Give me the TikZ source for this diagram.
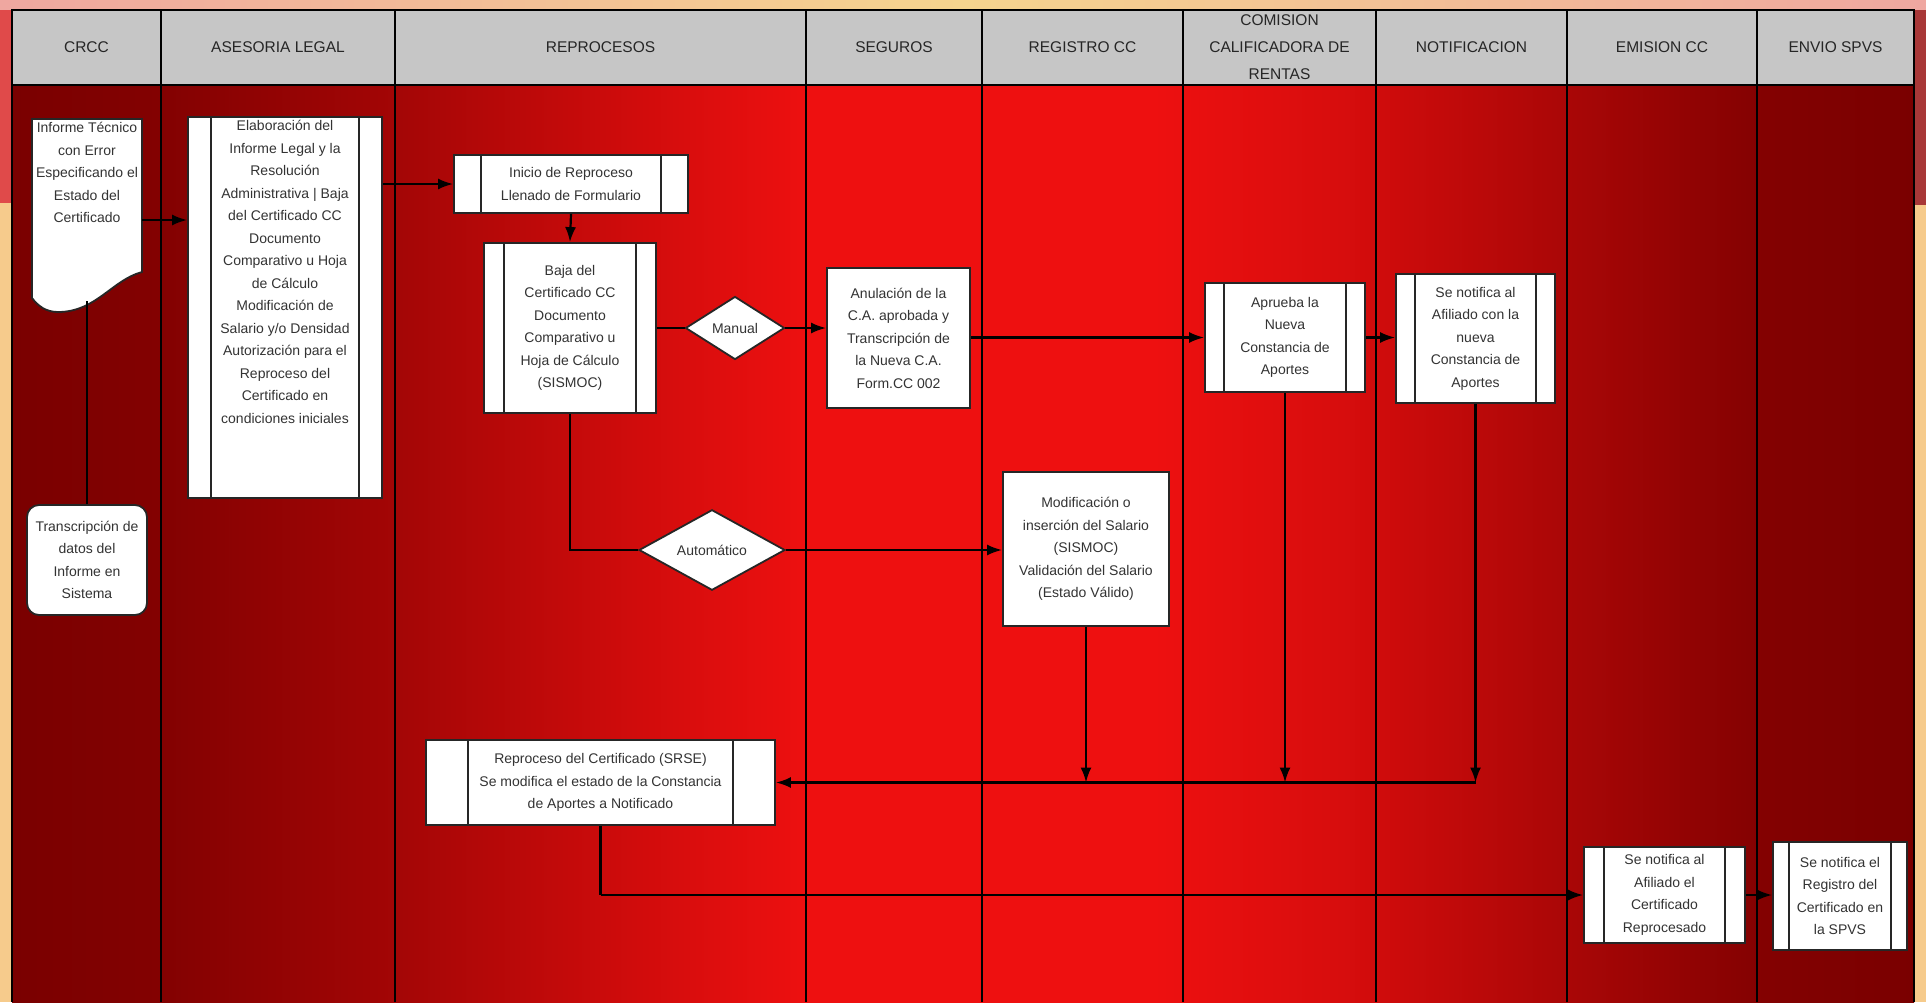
\documentclass[tikz,border=0pt]{standalone}
\usepackage{fontspec}
\setmainfont{Liberation Sans}
\usepackage{tikz}
\usetikzlibrary{arrows.meta,shapes.geometric,calc}
\definecolor{lanedark}{HTML}{7A0000}
\definecolor{lanebright}{HTML}{EE1010}
\definecolor{headgray}{HTML}{C6C6C6}
\definecolor{peach}{HTML}{F6CB8C}
\definecolor{edgepink}{HTML}{EFA7A0}
\definecolor{edgeyellow}{HTML}{F6D48E}
\definecolor{edgered}{HTML}{E04A4A}
\pgfdeclarehorizontalshading{lanefade}{100bp}{color(0bp)=(lanedark); color(25bp)=(lanedark); color(29bp)=(lanedark!92!lanebright); color(35bp)=(lanedark!65!lanebright); color(41.5bp)=(lanedark!25!lanebright); color(46bp)=(lanebright); color(55bp)=(lanebright); color(60bp)=(lanedark!20!lanebright); color(66bp)=(lanedark!60!lanebright); color(71bp)=(lanedark!92!lanebright); color(75bp)=(lanedark); color(100bp)=(lanedark)}
\newcommand{\boxfont}{\fontsize{14}{22.5}\selectfont}
\newcommand{\lanefont}{\fontsize{15.5}{27}\selectfont}
\tikzset{
	lanehead/.style={draw=black, line width=1.8pt, fill=headgray, minimum height=75, inner sep=0pt, align=center, font=\lanefont, text=black!85},
	laneline/.style={line width=1.8pt, black},
	txt/.style={align=center, font=\boxfont, text=black!80, inner sep=0pt},
	box/.style={draw=black!85, line width=1.8pt, fill=white, align=center, font=\boxfont, text=black!80, inner sep=2pt},
	subproc/.style={box, path picture={\draw[line width=1.8pt, black!85] ([xshift=#1]path picture bounding box.north west) -- ([xshift=#1]path picture bounding box.south west) ([xshift=-#1]path picture bounding box.north east) -- ([xshift=-#1]path picture bounding box.south east);}},
	subproc/.default=20pt,
	decision/.style={box, diamond, inner sep=0pt},
	flow/.style={line width=2.2pt, draw=black, -{Latex[length=15pt,width=11pt]}},
	link/.style={line width=2.2pt, draw=black}
}

\begin{document}
\begin{tikzpicture}[x=1pt,y=-1pt]
	\useasboundingbox (0,0) rectangle (1926,1002);

	\fill[peach] (0,0) rectangle (1926,1002);
	\shade[left color=edgepink, right color=edgepink, middle color=edgeyellow] (0,0) rectangle (1926,10);
	\fill[edgered] (0,10) rectangle (12,203);
	\fill[edgered!75!black] (1914,10) rectangle (1926,205);

	\shade[shading=lanefade] (12,85) rectangle (1914,1002);
	\foreach \xa/\xb/\lname/\ltext in {12/161/crcc/CRCC, 161/395/asesoria/ASESORIA LEGAL, 395/806/reprocesos/REPROCESOS, 806/982/seguros/SEGUROS, 982/1183/registro/REGISTRO CC, 1183/1376/comision/{COMISION\\CALIFICADORA DE\\RENTAS}, 1376/1567/notificacion/NOTIFICACION, 1567/1757/emision/EMISION CC, 1757/1914/envio/ENVIO SPVS}
		\node[lanehead, minimum width={\xb-\xa}] (h-\lname) at ({(\xa+\xb)/2},47.5) {\ltext};
	\foreach \x in {12,161,395,806,982,1183,1376,1567,1757,1914}
		\draw[laneline] (\x,85) -- (\x,1002);

	\draw[box] (32,119) -- (142,119) -- (142,272) .. controls (112,280) and (96,312) .. (58,312) .. controls (46,312) and (38,306) .. (32,298) -- cycle;
	\node[txt, anchor=north] (doc) at (87,122) {Informe Técnico\\con Error\\Especificando el\\Estado del\\Certificado};
	\coordinate (docr) at (142,220);
	\coordinate (docb) at (87,301);
	\node[box, rounded corners=12pt, minimum width=120, minimum height=110] (trans) at (87,560) {Transcripción de\\datos del\\Informe en\\Sistema};

	\node[subproc=23pt, minimum width=194, minimum height=381] (ase) at (285,307.5) {};
	\node[txt, anchor=north] (ase-txt) at ([yshift=-4pt]ase.north) {Elaboración del\\Informe Legal y la\\Resolución\\Administrativa | Baja\\del Certificado CC\\Documento\\Comparativo u Hoja\\de Cálculo\\Modificación de\\Salario y/o Densidad\\Autorización para el\\Reproceso del\\Certificado en\\condiciones iniciales};

	\node[subproc=27pt, minimum width=234, minimum height=58] (ini) at (571,184) {Inicio de Reproceso\\Llenado de Formulario};
	\node[subproc=20pt, minimum width=172, minimum height=170] (baja) at (570,328) {Baja del\\Certificado CC\\Documento\\Comparativo u\\Hoja de Cálculo\\(SISMOC)};
	\node[decision, minimum width=99, minimum height=63] (manual) at (735,328) {Manual};
	\node[decision, minimum width=146, minimum height=56] (auto) at (712,550) {Automático};
	\node[box, minimum width=143, minimum height=140] (anul) at (898.5,338) {Anulación de la\\C.A. aprobada y\\Transcripción de\\la Nueva C.A.\\Form.CC 002};
	\node[box, minimum width=166, minimum height=154] (modif) at (1086,549) {Modificación o\\inserción del Salario\\(SISMOC)\\Validación del Salario\\(Estado Válido)};
	\node[subproc=19pt, minimum width=160, minimum height=109] (apr) at (1285,337.5) {Aprueba la\\Nueva\\Constancia de\\Aportes};
	\node[subproc=19pt, minimum width=159, minimum height=129] (notif) at (1475.5,338.5) {Se notifica al\\Afiliado con la\\nueva\\Constancia de\\Aportes};
	\node[subproc=42pt, minimum width=349, minimum height=85] (repro) at (600.5,782.5) {Reproceso del Certificado (SRSE)\\Se modifica el estado de la Constancia\\de Aportes a Notificado};
	\node[subproc=20pt, minimum width=161, minimum height=96] (emi) at (1664.5,895) {Se notifica al\\Afiliado el\\Certificado\\Reprocesado};
	\node[subproc=16pt, minimum width=134, minimum height=108] (env) at (1840,896) {Se notifica el\\Registro del\\Certificado en\\la SPVS};

	\draw[flow] (docr) -- (docr -| ase.west);
	\draw[link] (docb) -- (trans.north);
	\draw[flow] (ini.west -| ase.east) -- (ini.west);
	\draw[flow] (ini.south) -- (baja.north);
	\draw[link] (baja.east) -- (manual.west);
	\draw[flow] (manual.east) -- (manual.east -| anul.west);
	\draw[link] (baja.south) -- (baja.south |- auto.west) -- (auto.west);
	\draw[flow] (auto.east) -- (auto.east -| modif.west);
	\draw[flow] (anul.east |- apr.west) -- (apr.west);
	\draw[flow] (apr.east) -- (apr.east -| notif.west);
	\draw[flow] (modif.south) -- (modif.south |- repro.east);
	\draw[flow] (apr.south) -- (apr.south |- repro.east);
	\draw[flow] (notif.south) -- (notif.south |- repro.east);
	\draw[flow] (notif.south |- repro.east) -- (repro.east);
	\draw[link] (repro.south) -- (repro.south |- emi.west);
	\draw[flow] (repro.south |- emi.west) -- (emi.west);
	\draw[flow] (emi.east) -- (emi.east -| env.west);

\end{tikzpicture}
\end{document}
